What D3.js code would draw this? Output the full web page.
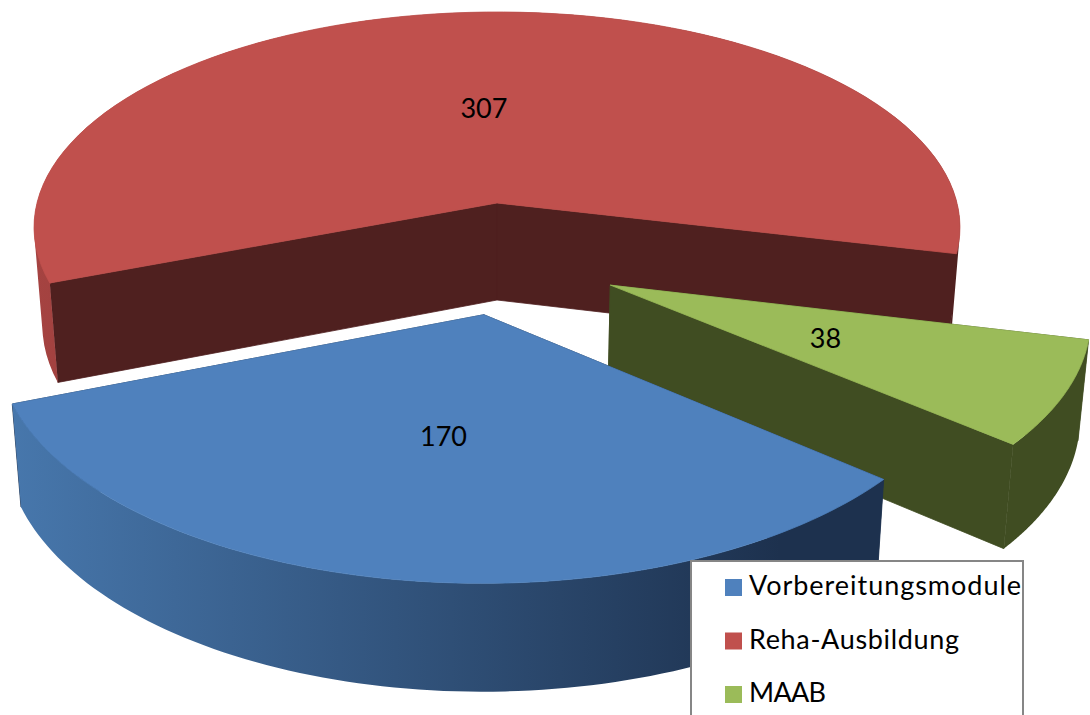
<!DOCTYPE html>
<html>
<head>
<meta charset="utf-8">
<script src="https://cdn.jsdelivr.net/npm/d3@7"></script>
<style>
  html, body { margin: 0; padding: 0; background: #fff; overflow: hidden; }
  text { font-family: Lato, "Open Sans", sans-serif; fill: #000; }
</style>
</head>
<body>
<svg id="chart" width="1090" height="715"></svg>
<script>
var categories = ['Vorbereitungsmodule', 'Reha-Ausbildung', 'MAAB'];
var values = [170, 307, 38];
var colors = ['#4f81bd', '#c0504d', '#9bbb59'];
var cutColors = ['#1d314e', '#4f201f', '#404d22'];
var wallFrom = ['#4777ac', '#a84442', '#404d22'];
var wallTo = ['#1d314e', '#4f201f', '#404d22'];

// how far each slice is pulled out of the pie, in pie radius units
var explode = [[-0.027, 0.496], [0, 0], [0.236, 0.37]];
var radius = [0.992, 1, 0.99];
var legendWidths = [272, 210, 77];

var width = 1090, height = 715;
var cx = 497;
var topY = 203, botY = 300;
var persp = 0.113;

// ground plane -> screen, the near side of the pie comes out bigger
function project(u, v, bottom) {
  var w = 1 - persp * v;
  if (bottom) return [cx + 460 * 0.982 * u / w, botY + 212.6 * 1.03 * v / w];
  return [cx + 460 * u / w, topY + 212.6 * v / w];
}

var svg = d3.select('#chart');
var defs = svg.append('defs');
var line = d3.line();

var pie = d3.pie().sort(null)
  .startAngle(130 * Math.PI / 180)
  .endAngle(490 * Math.PI / 180);
var slices = pie(values);

function rimPoint(i, a, bottom) {
  // d3 angles start at 12 o'clock and run clockwise
  var u = Math.sin(a) * radius[i] + explode[i][0];
  var v = -Math.cos(a) * radius[i] + explode[i][1];
  return project(u, v, bottom);
}

function rim(d, i, bottom) {
  var n = 90, pts = [];
  for (var k = 0; k <= n; k++) {
    pts.push(rimPoint(i, d.startAngle + (d.endAngle - d.startAngle) * k / n, bottom));
  }
  return pts;
}

categories.forEach(function(c, i) {
  var g = defs.append('linearGradient')
    .attr('id', 'wall' + i)
    .attr('gradientUnits', 'userSpaceOnUse')
    .attr('x1', 11).attr('x2', 780).attr('y1', 0).attr('y2', 0);
  g.append('stop').attr('offset', 0).attr('stop-color', wallFrom[i]);
  g.append('stop').attr('offset', 1).attr('stop-color', wallTo[i]);
});

// painter's order: back slice, then green, then the big front one
[1, 2, 0].forEach(function(i) {
  var d = slices[i];
  var g = svg.append('g');
  var top = rim(d, i, false);
  var bot = rim(d, i, true);
  var apexTop = project(explode[i][0], explode[i][1], false);
  var apexBot = project(explode[i][0], explode[i][1], true);

  g.append('path')
    .attr('d', line([apexTop, top[0], bot[0], apexBot]) + 'Z')
    .attr('fill', cutColors[i])
    .attr('stroke', cutColors[i])
    .attr('stroke-width', 0.8);
  g.append('path')
    .attr('d', line([apexTop, top[top.length - 1], bot[bot.length - 1], apexBot]) + 'Z')
    .attr('fill', cutColors[i])
    .attr('stroke', cutColors[i])
    .attr('stroke-width', 0.8);

  // outer wall as quads in one path, all wound the same way so the tangents stay filled
  var wall = d3.range(top.length - 1).map(function(k) {
    var quad = [top[k], top[k + 1], bot[k + 1], bot[k]];
    if (d3.polygonArea(quad) < 0) quad.reverse();
    return line(quad) + 'Z';
  }).join('');
  g.append('path')
    .attr('d', wall)
    .attr('fill', 'url(#wall' + i + ')')
    .attr('fill-rule', 'nonzero');

  // same stroke as the cut faces, so their edge does not peek out behind the top
  g.append('path')
    .attr('d', line([apexTop].concat(top)) + 'Z')
    .attr('fill', colors[i])
    .attr('stroke', colors[i])
    .attr('stroke-width', 0.8);
});

// value labels sit halfway out along the middle of each slice
slices.forEach(function(d, i) {
  var mid = (d.startAngle + d.endAngle) / 2;
  var p = project(Math.sin(mid) * 0.48 + explode[i][0], -Math.cos(mid) * 0.48 + explode[i][1], false);
  svg.append('text')
    .attr('x', p[0] + 1)
    .attr('y', p[1] + 12)
    .attr('text-anchor', 'middle')
    .style('font-size', '27px')
    .text(d.data);
});

// legend runs off the bottom of the picture
svg.append('rect')
  .attr('x', 691).attr('y', 561)
  .attr('width', 332).attr('height', 170)
  .attr('fill', '#fff')
  .attr('stroke', '#868686')
  .attr('stroke-width', 2);

var legendY = d3.scalePoint().domain(categories).range([0, 107]);

categories.forEach(function(c, i) {
  svg.append('rect')
    .attr('x', 725).attr('y', 579 + legendY(c))
    .attr('width', 17).attr('height', 17)
    .attr('fill', colors[i]);
  svg.append('text')
    .attr('x', 749).attr('y', 595 + legendY(c))
    .attr('textLength', legendWidths[i])
    .attr('lengthAdjust', 'spacing')
    .style('font-size', '27px')
    .text(c);
});
</script>
</body>
</html>
